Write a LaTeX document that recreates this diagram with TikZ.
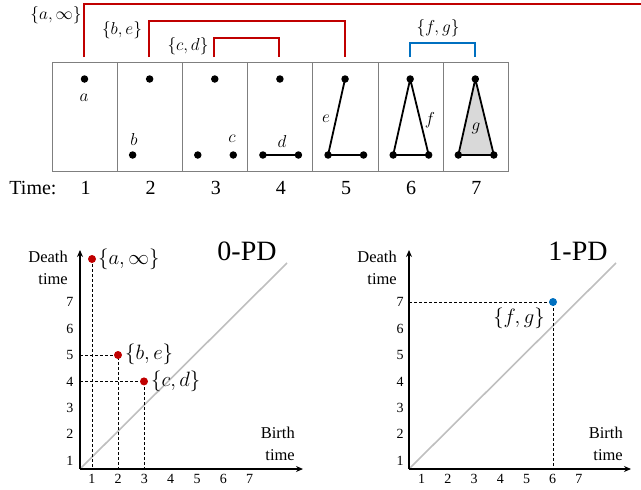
\documentclass[tikz,border=0pt]{standalone}
\usepackage{fontspec}
\setmainfont{Liberation Serif}
\usetikzlibrary{arrows.meta}
\definecolor{pdred}{HTML}{C00000}
\definecolor{pdblue}{HTML}{0070C0}
\definecolor{boxline}{HTML}{7F7F7F}
\definecolor{diag}{HTML}{BFBFBF}
\definecolor{trifill}{HTML}{D9D9D9}
\tikzset{
  vtx/.style={circle,fill=black,inner sep=0pt,minimum size=7.5pt},
  edgeline/.style={line width=1.8pt,black},
  lbl/.style={font=\fontsize{19}{22}\selectfont,inner sep=1pt},
  timelbl/.style={font=\fontsize{20}{22}\selectfont,inner sep=0pt},
  bracketred/.style={pdred,line width=1.8pt},
  bracketblue/.style={pdblue,line width=1.8pt},
  axis/.style={line width=2.4pt,-{Stealth[length=7pt,width=6pt]}},
  dashline/.style={black,line width=0.8pt,dash pattern=on 3pt off 2pt},
  diagline/.style={diag,line width=1.6pt},
  tick/.style={font=\fontsize{14}{16}\selectfont,inner sep=0pt},
  axlbl/.style={font=\fontsize{16.5}{22}\selectfont,align=right,inner sep=0pt},
  pdtitle/.style={font=\fontsize{28}{30}\selectfont,inner sep=0pt},
  pdpt/.style={circle,inner sep=0pt,minimum size=8pt},
  setlbl/.style={font=\fontsize{18.5}{21}\selectfont,inner sep=1pt},
  setlblb/.style={font=\fontsize{20.5}{23}\selectfont,inner sep=1pt}
}
\begin{document}
\begin{tikzpicture}[x=1pt,y=-1pt]
\useasboundingbox (0,0) rectangle (641,490);
% ---- frames ----
\node[draw=boxline,line width=0.9pt,minimum width=456pt,minimum height=109pt,inner sep=0pt,anchor=north west] (frame) at (52,62) {};
\foreach \xx [count=\k] in {117,182,247,312,378,443}{
  \coordinate (dt\k) at (\xx,62);
  \coordinate (db\k) at (\xx,171);
  \draw[boxline,line width=0.8pt] (dt\k) -- (db\k);
}
% ---- vertices ----
\foreach \i in {1,...,7}{
  \pgfmathsetmacro{\L}{52+65.14*(\i-1)}
  \coordinate (t\i) at (\L+32.5,79);
  \coordinate (l\i) at (\L+15.5,155);
  \coordinate (r\i) at (\L+51,155);
}
% filled triangle
\fill[trifill] (l7) -- (t7) -- (r7) -- cycle;
% edges
\draw[edgeline] (l4) -- (r4);
\draw[edgeline] (t5) -- (l5) -- (r5);
\draw[edgeline] (t6) -- (l6) -- (r6) -- (t6);
\draw[edgeline] (t7) -- (l7) -- (r7) -- (t7);
% dots
\node[vtx] (A1) at (t1) {};
\node[vtx] (A2) at (t2) {};
\node[vtx] (B2) at (l2) {};
\node[vtx] (A3) at (t3) {};
\node[vtx] (B3) at (l3) {};
\node[vtx] (C3) at (r3) {};
\node[vtx] (A4) at (t4) {};
\node[vtx] (B4) at (l4) {};
\node[vtx] (C4) at (r4) {};
\node[vtx] (A5) at (t5) {};
\node[vtx] (B5) at (l5) {};
\node[vtx] (C5) at (r5) {};
\node[vtx] (A6) at (t6) {};
\node[vtx] (B6) at (l6) {};
\node[vtx] (C6) at (r6) {};
\node[vtx] (A7) at (t7) {};
\node[vtx] (B7) at (l7) {};
\node[vtx] (C7) at (r7) {};
% simplex labels
\node[lbl] (la) at (84,98) {$a$};
\node[lbl] (lb) at (134,139) {$b$};
\node[lbl] (lc) at (232,139) {$c$};
\node[lbl] (ld) at (282,141) {$d$};
\node[lbl] (le) at (326,119) {$e$};
\node[lbl] (lf) at (430,120) {$f$};
\node[lbl] (lg) at (476,128) {$g$};
% time row
\node[timelbl] (time) at (33,188) {Time:};
\foreach \i in {1,...,7}{
  \pgfmathsetmacro{\C}{85.5+65.14*(\i-1)}
  \node[timelbl] (tm\i) at (\C,188) {\i};
}
% ---- brackets ----
\coordinate (ba0) at (84,57);
\coordinate (ba1) at (84,4);
\coordinate (ba2) at (641,4);
\draw[bracketred] (ba0) -- (ba1) -- (ba2);
\coordinate (bb0) at (149,57);
\coordinate (bb1) at (149,21);
\coordinate (bb2) at (345,21);
\coordinate (bb3) at (345,57);
\draw[bracketred] (bb0) -- (bb1) -- (bb2) -- (bb3);
\coordinate (bc0) at (214,57);
\coordinate (bc1) at (214,38);
\coordinate (bc2) at (279,38);
\coordinate (bc3) at (279,57);
\draw[bracketred] (bc0) -- (bc1) -- (bc2) -- (bc3);
\coordinate (bf0) at (410,57);
\coordinate (bf1) at (410,43);
\coordinate (bf2) at (475,43);
\coordinate (bf3) at (475,57);
\draw[bracketblue] (bf0) -- (bf1) -- (bf2) -- (bf3);
\node[setlbl] (sa) at (56,15) {$\{a,\infty\}$};
\node[setlbl] (sb) at (122,30) {$\{b,e\}$};
\node[setlbl] (sc) at (188,46) {$\{c,d\}$};
\node[setlbl] (sf) at (438,28) {$\{f,g\}$};
% ---- 0-PD ----
\coordinate (O1) at (80,469);
\coordinate (X1) at (303,469);
\coordinate (Y1) at (80,250);
\coordinate (D1) at (287,263);
\draw[diagline] (O1) -- (D1);
\coordinate (pa) at (92,259);
\coordinate (pb) at (118,355);
\coordinate (pc) at (144,381.4);
\coordinate (pbx) at (118,469);
\coordinate (pby) at (80,355);
\coordinate (pcx) at (144,469);
\coordinate (pcy) at (80,381.4);
\coordinate (pax) at (92,469);
\draw[dashline] (pa) -- (pax);
\draw[dashline] (pby) -- (pb) -- (pbx);
\draw[dashline] (pcy) -- (pc) -- (pcx);
\draw[axis] (O1) -- (X1);
\draw[axis] (O1) -- (Y1);
\node[pdpt,fill=pdred] (PA) at (pa) {};
\node[pdpt,fill=pdred] (PB) at (pb) {};
\node[pdpt,fill=pdred] (PC) at (pc) {};
\node[setlblb,anchor=west] (lpa) at (97,259) {$\{a,\infty\}$};
\node[setlblb,anchor=west] (lpb) at (124,354) {$\{b,e\}$};
\node[setlblb,anchor=west] (lpc) at (150,381) {$\{c,d\}$};
\foreach \v in {1,...,7}{
  \node[tick] (xa\v) at (65.5+26.3*\v,479) {\v};
  \node[tick] (ya\v) at (70,487-26.4*\v) {\v};
}
\node[axlbl,anchor=east] (dt1) at (68,268) {Death\\time};
\node[axlbl,anchor=east] (bt1) at (295,444) {Birth\\time};
\node[pdtitle] (pd0) at (247,251) {0-PD};
% ---- 1-PD ----
\coordinate (O2) at (409,469);
\coordinate (X2) at (631,469);
\coordinate (Y2) at (409,250);
\coordinate (D2) at (616,263);
\draw[diagline] (O2) -- (D2);
\coordinate (pf) at (553,302);
\coordinate (pfx) at (553,469);
\coordinate (pfy) at (409,302);
\draw[dashline] (pfy) -- (pf) -- (pfx);
\draw[axis] (O2) -- (X2);
\draw[axis] (O2) -- (Y2);
\node[pdpt,fill=pdblue] (PF) at (pf) {};
\node[setlblb] (lpf) at (519,318) {$\{f,g\}$};
\foreach \v in {1,...,7}{
  \node[tick] (xb\v) at (395.5+26.2*\v,479) {\v};
  \node[tick] (yb\v) at (400,487-26.4*\v) {\v};
}
\node[axlbl,anchor=east] (dt2) at (397,268) {Death\\time};
\node[axlbl,anchor=east] (bt2) at (623,444) {Birth\\time};
\node[pdtitle] (pd1) at (578,251) {1-PD};
\end{tikzpicture}
\end{document}
